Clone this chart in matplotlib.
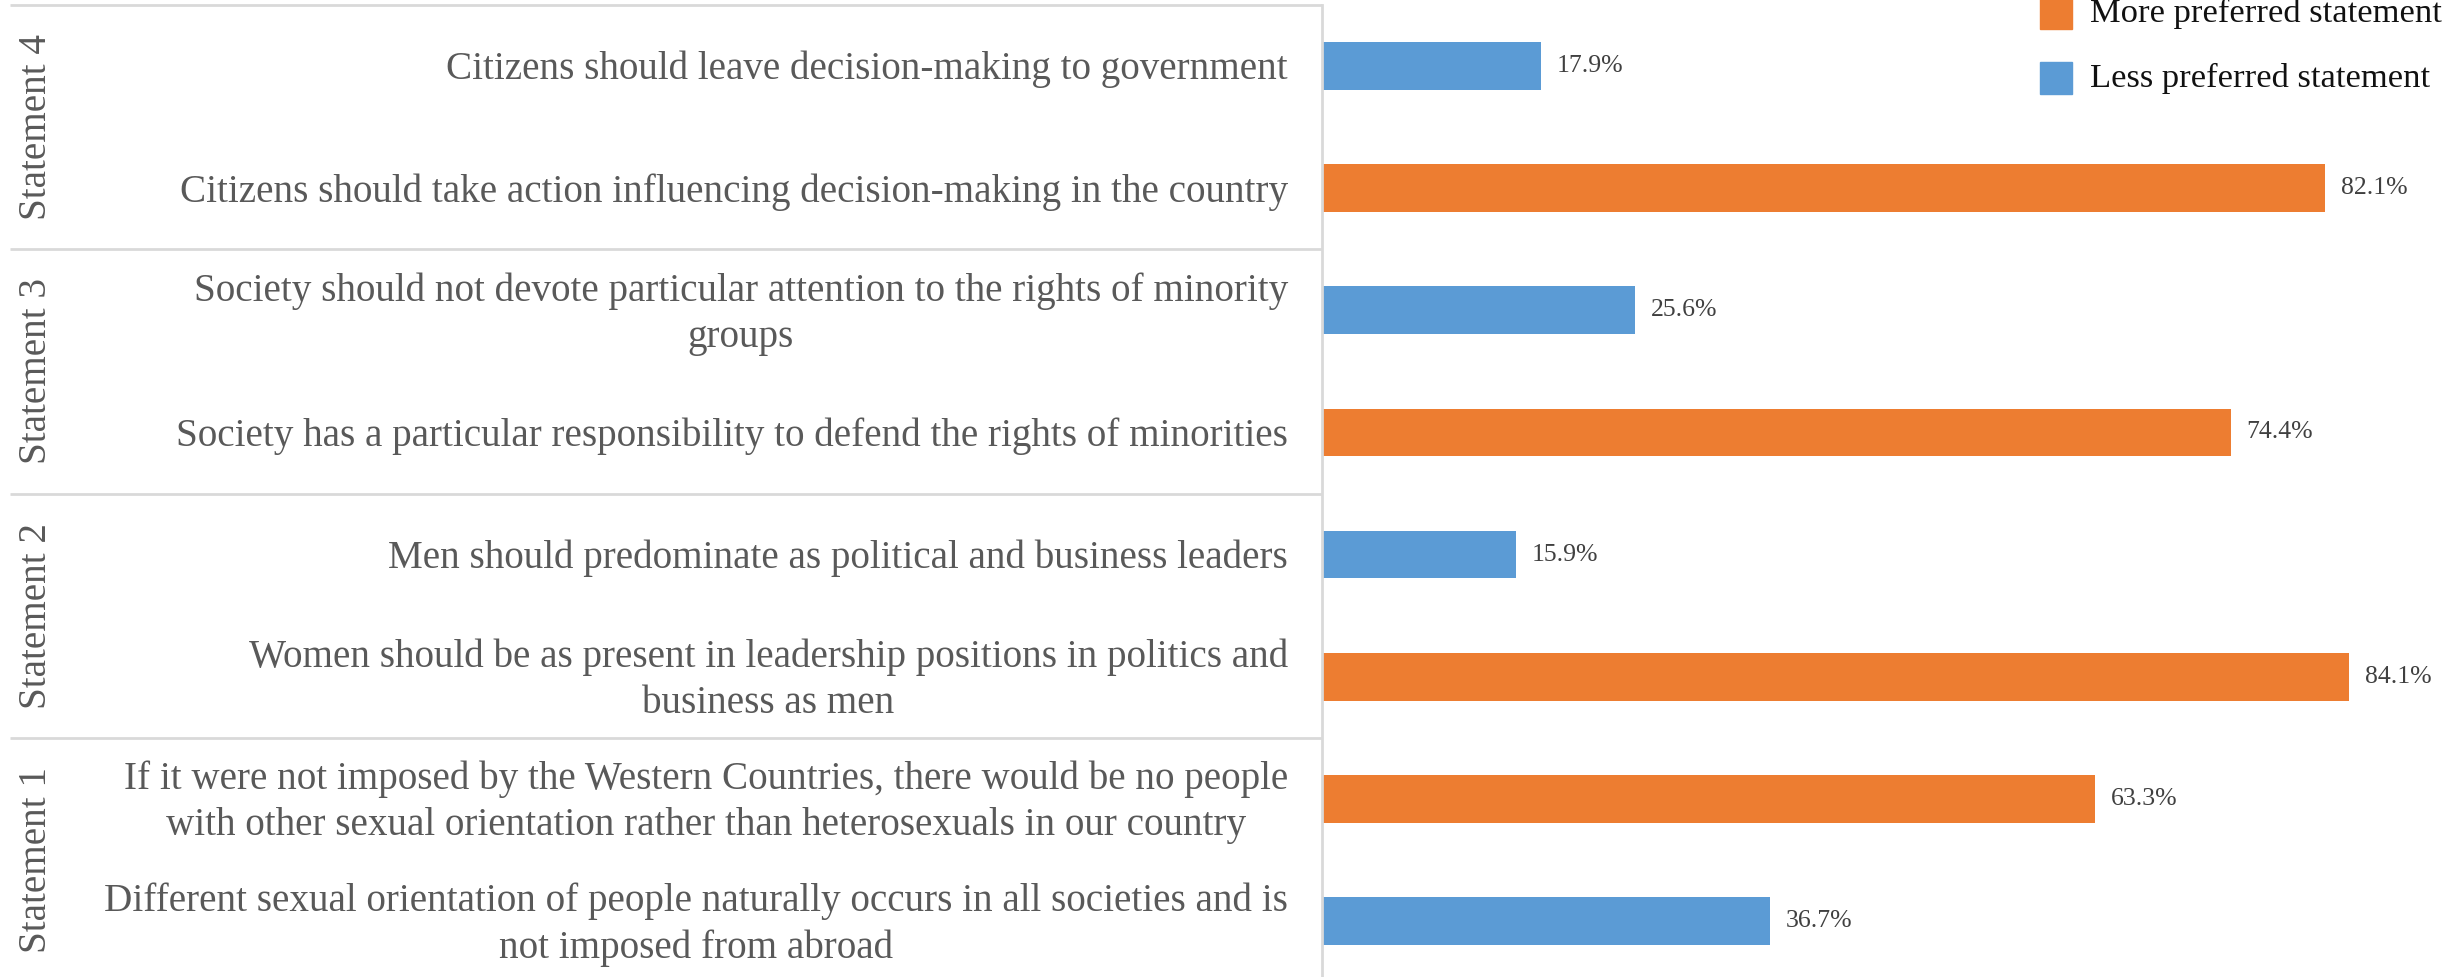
import matplotlib.pyplot as plt
from matplotlib.patches import Rectangle

# statements, bottom to top
labels = [
    "Different sexual orientation of people naturally occurs in all societies and is\nnot imposed from abroad",
    "If it were not imposed by the Western Countries, there would be no people\nwith other sexual orientation rather than heterosexuals in our country",
    "Women should be as present in leadership positions in politics and\nbusiness as men",
    "Men should predominate as political and business leaders",
    "Society has a particular responsibility to defend the rights of minorities",
    "Society should not devote particular attention to the rights of minority\ngroups",
    "Citizens should take action influencing decision-making in the country",
    "Citizens should leave decision-making to government",
]
values = [36.7, 63.3, 84.1, 15.9, 74.4, 25.6, 82.1, 17.9]
preferred = [False, True, True, False, True, False, True, False]
groups = ["Statement 1", "Statement 2", "Statement 3", "Statement 4"]

ORANGE = "#ED7D31"
BLUE = "#5B9BD5"
GRID = "#D9D9D9"
TXT = "#595959"
FONT = "Liberation Serif"

W, H = 2453, 977
fig = plt.figure(figsize=(W / 100, H / 100), dpi=100)

ax_left = 1322 / W
ax_top = 1 - 5 / H
ax = fig.add_axes([ax_left, 0, 1 - ax_left, ax_top])

pos = list(range(len(values)))
colors = [ORANGE if p else BLUE for p in preferred]
ax.barh(pos, values, height=0.39, color=colors)

for y, v in zip(pos, values):
    ax.text(v + 1.3, y, f"{v:.1f}%", va="center", ha="left",
            fontsize=18.5, color="#404040", family=FONT)

ax.set_xlim(0, 92.6)
ax.set_ylim(-0.5 + 5 / 122, len(values) - 0.5)
ax.set_xticks([])
ax.set_yticks([])
for s in ["top", "right", "bottom"]:
    ax.spines[s].set_visible(False)
ax.spines["left"].set_color(GRID)
ax.spines["left"].set_linewidth(2)

# category labels, group names and separators to the left of the axis
trans = ax.get_yaxis_transform()
span = W - 1322
for y, lab in zip(pos, labels):
    ax.text(-34 / span, y - 0.03, lab, transform=trans, ha="right", va="center",
            multialignment="center", fontsize=28.2, color=TXT, family=FONT,
            linespacing=1.32)

x0 = -(1322 - 10) / span
for g in range(len(groups) + 1):
    yb = g * 2 - 0.5
    ax.plot([x0, 0], [yb, yb], transform=trans, color=GRID, lw=2,
            clip_on=False, solid_capstyle="butt")
for g, name in enumerate(groups):
    ax.text(-(1322 - 37) / span, g * 2 + 0.5, name, transform=trans,
            rotation=90, ha="center", va="center", fontsize=28.2,
            color=TXT, family=FONT)

# legend
leg = [("More preferred statement", ORANGE, 13), ("Less preferred statement", BLUE, 78)]
for text, c, yc in leg:
    fig.patches.append(Rectangle((2040 / W, 1 - (yc + 16) / H), 32 / W, 32 / H,
                                 transform=fig.transFigure, color=c))
    fig.text(2090 / W, 1 - yc / H, text, ha="left", va="center",
             fontsize=24.8, color="#111111", family=FONT)

fig.savefig("out.png", dpi=100)
